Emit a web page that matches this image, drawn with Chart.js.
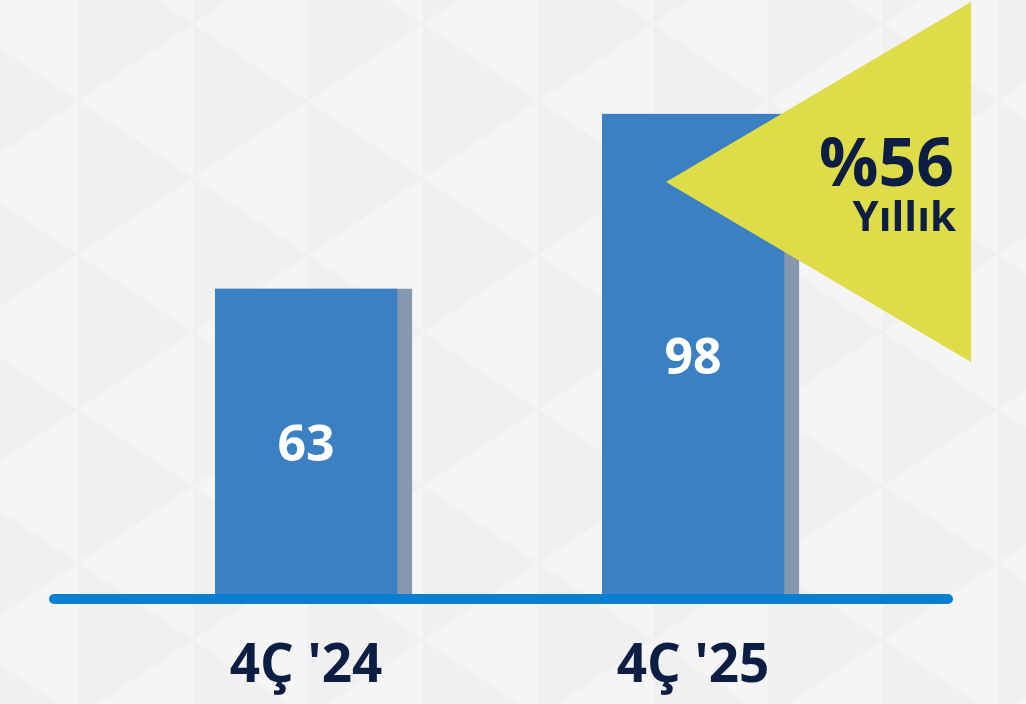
<!DOCTYPE html>
<html lang="tr">
<head>
<meta charset="utf-8">
<title>4Ç '24 / 4Ç '25</title>
<script src="https://cdn.jsdelivr.net/npm/chart.js@4.4.1/dist/chart.umd.min.js"></script>
<style>
  html, body { margin: 0; padding: 0; background: #f4f4f4; }
  #wrap { width: 1026px; height: 704px; }
</style>
</head>
<body>
<div id="wrap"><canvas id="myChart" width="1026" height="704"></canvas></div>
<script>
// Data
const quarters = ["4Ç '24", "4Ç '25"];
const values = [63, 98];
const yRange = [0, 120];
const badgeValue = '%56';
const badgeNote = 'Yıllık';

const ctx = document.getElementById('myChart').getContext('2d');
const navy = '#0D1E44';
const fontFamily = '"Open Sans", "Noto Sans", sans-serif';

// Light triangle pattern behind everything
const backdrop = {
  id: 'backdrop',
  beforeDraw(chart) {
    const c = chart.ctx;
    const w = chart.width;
    const h = chart.height;
    c.save();
    c.fillStyle = '#f5f5f5';
    c.fillRect(0, 0, w, h);
    const colW = 115;
    const step = 154;
    c.fillStyle = '#f0f0f0';
    for (let k = -1; k < 11; k++) {
      const xl = 78 + (k - 1) * colW + colW; // left edge of strip
      const xr = xl + colW;
      const offL = (k % 2 === 0) ? 77 : 0;
      for (let m = -1; m < 6; m++) {
        const y0 = 24 + offL + m * step;
        // right-pointing triangle: base on left edge, apex on right edge
        c.beginPath();
        c.moveTo(xl, y0);
        c.lineTo(xl, y0 + step);
        c.lineTo(xr, y0 + step / 2);
        c.closePath();
        c.fill();
      }
    }
    c.restore();
  },
};

// Blue axis line, values inside the bars, yellow badge
const overlay = {
  id: 'overlay',
  afterDatasetsDraw(chart) {
    const c = chart.ctx;
    const meta = chart.getDatasetMeta(0);
    const yScale = chart.scales.y;
    const base = yScale.getPixelForValue(0);

    c.save();
    c.strokeStyle = '#0A7FD1';
    c.lineWidth = 10;
    c.lineCap = 'round';
    c.beginPath();
    c.moveTo(54, base - 4);
    c.lineTo(948, base - 4);
    c.stroke();

    c.fillStyle = '#ffffff';
    c.font = 'bold 50px ' + fontFamily;
    c.textAlign = 'center';
    c.textBaseline = 'middle';
    meta.data.forEach((bar, i) => {
      c.fillText(String(values[i]), bar.x - 7.5, (bar.y + bar.base) / 2 + 1);
    });

    // badge
    c.fillStyle = '#DEDC48';
    c.beginPath();
    c.moveTo(666, 182);
    c.lineTo(971, 2);
    c.lineTo(971, 362);
    c.closePath();
    c.fill();

    c.fillStyle = navy;
    c.textAlign = 'right';
    c.textBaseline = 'alphabetic';
    c.font = 'bold 66px ' + fontFamily;
    c.fillText(badgeValue, 954, 186);
    c.font = 'bold 42px ' + fontFamily;
    c.fillText(badgeNote, 956, 231);
    c.restore();
  },
};

const myChart = new Chart(ctx, {
  type: 'bar',
  data: {
    labels: quarters,
    datasets: [
      {
        data: values,
        backgroundColor: '#3A80C3',
        borderColor: '#8798AE',
        borderWidth: { top: 0, right: 15, bottom: 0, left: 0 },
        borderSkipped: false,
        barThickness: 197,
      },
    ],
  },
  options: {
    responsive: false,
    animation: false,
    events: [],
    layout: {
      padding: { left: 120, right: 132, top: 4, bottom: 0 },
    },
    plugins: {
      legend: { display: false },
      tooltip: { enabled: false },
    },
    scales: {
      x: {
        grid: { display: false, drawTicks: false },
        border: { display: false },
        ticks: {
          color: navy,
          font: { family: fontFamily, size: 53, weight: 'bold', lineHeight: 1.2 },
          padding: 32,
          labelOffset: -7.5,
        },
        afterFit(axis) {
          axis.height = 101;
        },
      },
      y: {
        display: false,
        min: yRange[0],
        max: yRange[1],
      },
    },
  },
  plugins: [backdrop, overlay],
});
</script>
</body>
</html>
